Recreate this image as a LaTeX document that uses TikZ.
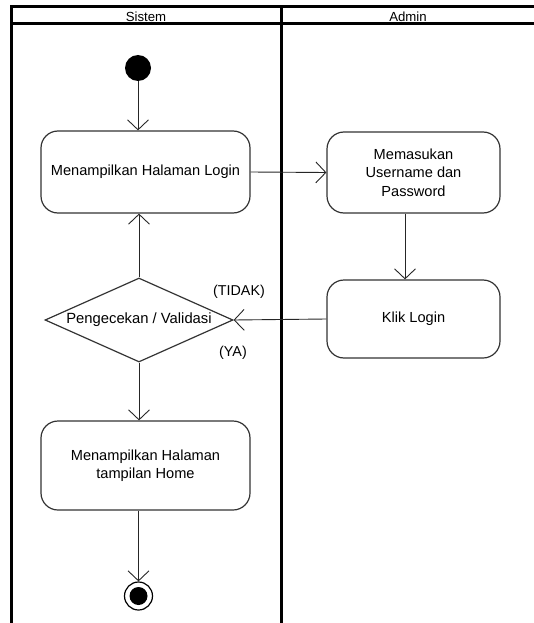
\documentclass[tikz,border=0pt]{standalone}
\usepackage{fontspec}
\setmainfont{Liberation Sans}
\usetikzlibrary{shapes}
\usetikzlibrary{arrows.meta}
\usetikzlibrary{positioning}

\begin{document}
\begin{tikzpicture}[x=1pt, y=-1pt,
  lane/.style = {line width=3pt},
  act/.style = {rectangle, rounded corners=17pt, draw=black!80, line width=1.2pt, align=center, font=\fontsize{14.6}{18.5}\selectfont},
  flow/.style = {-{Straight Barb[length=10pt, width=21pt, line width=0.9pt]}, line width=0.9pt, black!85},
  lbl/.style = {font=\fontsize{14.3}{16}\selectfont},
  head/.style = {font=\fontsize{13.2}{15}\selectfont}]
\useasboundingbox (0,0) rectangle (534,623);
% swimlanes
\draw[lane] (534,7) -- (11,7) -- (11,623);
\draw[lane] (11,24) -- (534,24);
\draw[lane] (281,7) -- (281,623);
\node[head] (hsis) at (146,16.5) {Sistem};
\node[head] (hadm) at (408,16.5) {Admin};
% states
\node[circle, fill=black, minimum size=26pt, inner sep=0pt] (start) at (138,68) {};
\node[act, minimum width=209pt, minimum height=82pt] (login) at (145.5,172) {Menampilkan Halaman Login};
\node[act, minimum width=173pt, minimum height=81pt] (input) at (413.5,172.5) {Memasukan\\Username dan\\Password};
\node[act, minimum width=173pt, minimum height=78pt] (klik) at (413.5,319) {Klik Login};
\node[diamond, draw=black!80, line width=1.2pt, shape aspect=2.26, inner sep=0pt, minimum width=188pt, minimum height=84pt, font=\fontsize{14.8}{16}\selectfont] (cek) at (139,320) {Pengecekan / Validasi};
\node[act, minimum width=209pt, minimum height=89pt] (home) at (145.5,465.5) {Menampilkan Halaman\\tampilan Home};
\node[circle, draw=black, line width=1.2pt, minimum size=28pt, inner sep=0pt] (stop) at (138.5,596) {};
\node[circle, fill=black, minimum size=18pt, inner sep=0pt] (stopdot) at (stop.center) {};
% flows
\draw[flow] (start) -- (start |- login.north);
\draw[flow] (login.east) -- (input.west);
\draw[flow] (input.south -| 405,0) -- (klik.north -| 405,0);
\draw[flow] (klik.west) -- (cek.east);
\draw[flow] (cek.north) -- (cek.north |- login.south);
\draw[flow] (cek.south) -- (cek.south |- home.north);
\draw[flow] (home.south -| stop) -- (stop.north);
\node[lbl] (tidak) at (239,292) {(TIDAK)};
\node[lbl] (ya) at (233,353) {(YA)};
\end{tikzpicture}
\end{document}
